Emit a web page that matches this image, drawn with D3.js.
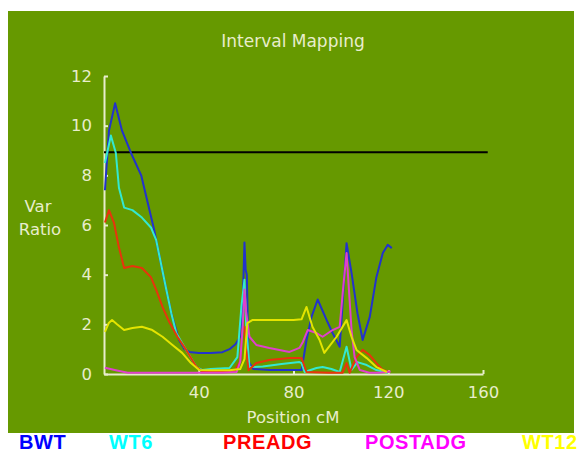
<!DOCTYPE html>
<html>
<head>
<meta charset="utf-8">
<script src="https://cdn.jsdelivr.net/npm/d3@7"></script>
<style>
  body { margin: 0; background: #fff; }
</style>
</head>
<body>
<div id="chart"></div>
<script>
const chartWidth = 586
const chartHeight = 453

// series names (legend order)
const seriesNames = ['BWT', 'WT6', 'PREADG', 'POSTADG', 'WT12']

// positions (cM) and var ratio values
const bwtPos = [0.4, 2.1, 4.7, 7.6, 11.4, 15.7, 21.2, 22, 26.3, 28.4, 31.7, 34, 36, 40, 45, 50, 53, 55.5, 57.5, 58.6, 59.3, 59.8, 60.3, 61, 63, 70, 80, 83.4, 85.5, 87.6, 90.2, 94, 96.5, 99.5, 100.5, 102.4, 104.5, 107, 109.2, 112.2, 115, 117.7, 119.8, 121.5]
const bwtVal = [7.4, 9.8, 10.9, 9.8, 8.9, 8.0, 5.8, 5.4, 3.4, 2.45, 1.37, 1.0, 0.89, 0.85, 0.85, 0.88, 1.0, 1.2, 1.5, 3.0, 5.3, 4.2, 4.0, 0.5, 0.2, 0.16, 0.16, 0.16, 1.37, 2.3, 3.0, 2.17, 1.65, 1.1, 2.5, 5.27, 4.07, 2.45, 1.37, 2.3, 3.9, 4.87, 5.2, 5.07]

const wt6Pos = [0.4, 2.9, 5, 6.3, 8.5, 12, 16, 19.8, 22, 26.3, 28.4, 30.5, 34.7, 39, 41.6, 45, 53, 56.3, 58, 59.3, 60, 61.4, 67, 75, 82.5, 83.4, 84.7, 89.7, 92.3, 96, 99.5, 102.4, 104.5, 107, 110.9, 115, 120]
const wt6Val = [8.5, 9.6, 8.9, 7.5, 6.7, 6.6, 6.3, 5.9, 5.4, 3.4, 2.45, 1.65, 0.97, 0.28, 0.16, 0.2, 0.24, 0.68, 2.7, 3.8, 2.0, 0.28, 0.3, 0.4, 0.48, 0.44, 0.08, 0.24, 0.28, 0.2, 0.08, 1.1, 0.16, 0.48, 0.36, 0.16, 0.05]

const preadgPos = [0.4, 2.1, 4.2, 6.3, 8.5, 12, 16, 19.8, 22, 24.7, 27.5, 31, 34.7, 38.9, 41.5, 50, 55, 57.5, 58.4, 59.3, 60, 61, 64.3, 69.8, 78.3, 83.4, 85.5, 95, 100.7, 102.4, 103.7, 106.6, 109.2, 112.2, 115, 117.7, 120.6]
const preadgVal = [6.1, 6.6, 6.1, 5.1, 4.27, 4.35, 4.27, 3.9, 3.4, 2.7, 2.1, 1.5, 0.97, 0.3, 0.1, 0.1, 0.12, 0.5, 1.8, 1.9, 1.0, 0.15, 0.44, 0.56, 0.64, 0.64, 0.08, 0.05, 0.05, 0.44, 0.05, 0.68, 0.97, 0.76, 0.44, 0.16, 0.08]

const postadgPos = [0.4, 5, 10, 20, 30, 40, 50, 56, 57.5, 58.5, 59.3, 60, 61.4, 64.3, 69.8, 78.3, 82.5, 84, 86, 89.7, 92.3, 96.5, 99.5, 101, 102.4, 104.5, 105.8, 108, 112, 116, 121]
const postadgVal = [0.25, 0.15, 0.05, 0.05, 0.05, 0.05, 0.05, 0.08, 0.5, 1.8, 3.4, 2.5, 1.5, 1.17, 1.05, 0.89, 1.05, 1.3, 1.77, 1.65, 1.5, 1.77, 1.9, 3.5, 4.87, 1.77, 0.68, 0.16, 0.05, 0.05, 0.1]

const wt12Pos = [0.4, 2, 3.4, 5.5, 8.5, 12, 16, 20.4, 24.7, 28.9, 33, 36.7, 40.2, 45, 53, 57.5, 59.3, 60.5, 62.6, 70, 80, 83.4, 85.5, 88, 91, 93, 98.2, 102.4, 104.5, 106.6, 110.9, 115, 119.4]
const wt12Val = [1.7, 2.05, 2.17, 2.0, 1.77, 1.85, 1.9, 1.77, 1.5, 1.17, 0.85, 0.44, 0.16, 0.15, 0.15, 0.2, 0.6, 2.05, 2.17, 2.17, 2.17, 2.2, 2.7, 1.9, 1.37, 0.85, 1.5, 2.17, 1.5, 0.97, 0.64, 0.28, 0.08]

// threshold line
const thresholdValue = 8.93
const thresholdSpan = [0, 162]

// tick labels
const xTicks = [40, 80, 120, 160]
const yTicks = [0, 2, 4, 6, 8, 10, 12]

const lineColors = ['#2233cc', '#33e8d0', '#e8340c', '#e040cc', '#e4e400']
const legendColors = ['#0000ff', '#00ffff', '#ff0000', '#ff00ff', '#ffff00']
const legendX = [19, 109, 223, 365, 522]

const green = '#669900'
const ink = '#e8edcc'
const labelFont = '"DejaVu Sans", sans-serif'

let xScale = d3.scaleLinear()
    .domain([0, 160])
    .range([104, 483])

let yScale = d3.scaleLinear()
    .domain([0, 12])
    .range([374, 76])

const series = [
  { pos: bwtPos, val: bwtVal },
  { pos: wt6Pos, val: wt6Val },
  { pos: preadgPos, val: preadgVal },
  { pos: postadgPos, val: postadgVal },
  { pos: wt12Pos, val: wt12Val }
].map((s, i) => ({ name: seriesNames[i], points: s.pos.map((p, j) => ({ x: p, y: s.val[j] })) }))

const svg = d3.select('#chart').append('svg')
    .attr('width', chartWidth)
    .attr('height', chartHeight)

svg.append('rect')
    .attr('x', 8)
    .attr('y', 11)
    .attr('width', 566)
    .attr('height', 422)
    .attr('fill', green)

// title
svg.append('text')
    .attr('x', 293)
    .attr('y', 47)
    .attr('text-anchor', 'middle')
    .attr('fill', ink)
    .style('font-family', labelFont)
    .style('font-size', '17px')
    .text('Interval Mapping')

// axes
let yAxis = d3.axisLeft(yScale)
    .tickValues(yTicks)
    .tickSize(-4)
    .tickSizeOuter(0)
    .tickPadding(12)

let xAxis = d3.axisBottom(xScale)
    .tickValues(xTicks)
    .tickSize(-4)
    .tickSizeOuter(0)
    .tickPadding(12)

const gy = svg.append('g')
    .attr('transform', 'translate(' + xScale(0) + ',0)')
    .call(yAxis)

const gx = svg.append('g')
    .attr('transform', 'translate(0,' + yScale(0) + ')')
    .call(xAxis)

;[gx, gy].forEach(g => {
  g.attr('font-family', labelFont).attr('font-size', 16.5)
  g.selectAll('path, line').attr('stroke', ink).attr('stroke-width', 2)
  g.selectAll('text').attr('fill', ink)
})

// axis titles
svg.append('text')
    .attr('x', 38)
    .attr('y', 212)
    .attr('text-anchor', 'middle')
    .attr('fill', ink)
    .style('font-family', labelFont)
    .style('font-size', '16.5px')
    .text('Var')

svg.append('text')
    .attr('x', 40)
    .attr('y', 235)
    .attr('text-anchor', 'middle')
    .attr('fill', ink)
    .style('font-family', labelFont)
    .style('font-size', '16.5px')
    .text('Ratio')

svg.append('text')
    .attr('x', 293)
    .attr('y', 423)
    .attr('text-anchor', 'middle')
    .attr('fill', ink)
    .style('font-family', labelFont)
    .style('font-size', '16.5px')
    .text('Position cM')

// threshold
svg.append('line')
    .attr('x1', xScale(thresholdSpan[0]))
    .attr('x2', xScale(thresholdSpan[1]))
    .attr('y1', yScale(thresholdValue))
    .attr('y2', yScale(thresholdValue))
    .attr('stroke', '#000')
    .attr('stroke-width', 2)

var lineGenerator = d3.line().x(d => xScale(d.x)).y(d => yScale(d.y))

svg.append('g')
    .selectAll('path')
    .data(series)
    .enter().append('path')
    .attr('d', d => lineGenerator(d.points))
    .attr('fill', 'none')
    .attr('stroke', (d, i) => lineColors[i])
    .attr('stroke-width', 2)
    .attr('stroke-linejoin', 'round')

// legend below the plot
svg.append('g')
    .selectAll('text')
    .data(seriesNames)
    .enter().append('text')
    .attr('x', (d, i) => legendX[i])
    .attr('y', 448.5)
    .attr('fill', (d, i) => legendColors[i])
    .style('font-family', '"Liberation Sans", Arial, sans-serif')
    .style('font-weight', 700)
    .style('font-size', '20px')
    .style('letter-spacing', '0.6px')
    .text(d => d)
</script>
</body>
</html>
